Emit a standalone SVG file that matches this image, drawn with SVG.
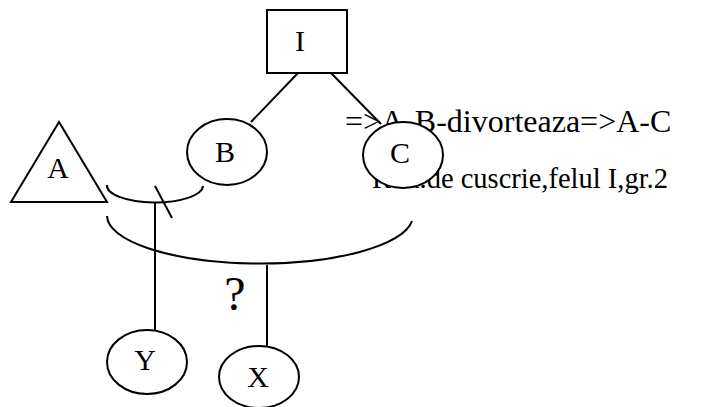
<svg xmlns="http://www.w3.org/2000/svg" width="707" height="407" viewBox="0 0 707 407">
<style>
.s{fill:#fff;stroke:#000;stroke-width:2}
.c{fill:none;stroke:#000;stroke-width:2}
.t{font-family:"Liberation Serif","Times New Roman",serif;font-size:30px;fill:#000}
.m{text-anchor:middle}
</style>
<rect width="707" height="407" fill="#fff"/>
<g id="connectors">
<line class="c" x1="298" y1="73" x2="251" y2="122"/>
<line class="c" x1="331" y1="73" x2="381" y2="124"/>
<path class="c" d="M107,185 A48,17 0 0 0 203,186"/>
<line class="c" x1="155" y1="186" x2="172" y2="218"/>
<line class="c" x1="155" y1="202" x2="155" y2="330"/>
<path class="c" d="M107,216 A153,48 0 0 0 412,221"/>
<line class="c" x1="267" y1="265" x2="267" y2="346"/>
</g>
<g id="note">
<text class="t" x="345" y="132" style="font-size:32px">=&gt;A-B-divorteaza=&gt;A-C</text>
<text class="t" x="372" y="188" style="font-size:28.5px">Rud.de cuscrie,felul I,gr.2</text>
</g>
<g id="node-I">
<rect class="s" x="267" y="10" width="80" height="63"/>
<text class="t m" x="300" y="51">I</text>
</g>
<g id="node-A">
<polygon class="s" points="59,122 11,202 107,202"/>
<text class="t m" x="58" y="178">A</text>
</g>
<g id="node-B">
<ellipse class="s" cx="227" cy="152" rx="40" ry="33"/>
<text class="t m" x="225" y="162">B</text>
</g>
<g id="node-C">
<ellipse class="s" cx="403" cy="155" rx="40" ry="33"/>
<text class="t m" x="400" y="163">C</text>
</g>
<g id="node-Y">
<ellipse class="s" cx="147" cy="362" rx="40" ry="32"/>
<text class="t m" x="145" y="370">Y</text>
</g>
<g id="node-X">
<ellipse class="s" cx="259" cy="377" rx="40" ry="31"/>
<text class="t m" x="258" y="387">X</text>
</g>
<text class="t m" x="235" y="310" style="font-size:48px">?</text>
</svg>
